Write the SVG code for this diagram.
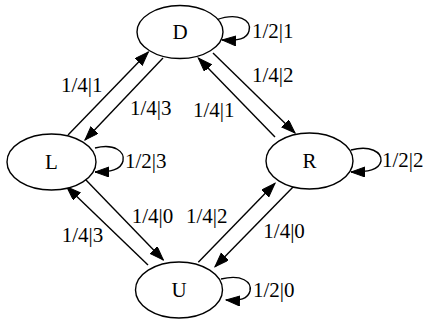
<svg xmlns="http://www.w3.org/2000/svg" width="423" height="325" viewBox="0 0 423 325">
<style>
.node ellipse{fill:#fff;stroke:#000;stroke-width:1.4}
.node text{font-family:"Liberation Serif","Times New Roman",serif;font-size:21px;text-anchor:middle;fill:#000}
.edges path{fill:none;stroke:#000;stroke-width:1.4;marker-end:url(#arr)}
.lbl{font-family:"Liberation Serif","Times New Roman",serif;font-size:21px;fill:#000}
</style>
<defs>
<marker id="arr" markerUnits="userSpaceOnUse" markerWidth="15" markerHeight="11" refX="14" refY="5" orient="auto" viewBox="0 0 15 11">
<path d="M0,0 L14,5 L0,10 z" fill="#000" stroke="#000" stroke-width="1"/>
</marker>
</defs>
<rect width="423" height="325" fill="#fff"/>
<g id="edges" class="edges">
<path d="M68,135 L148.3,52"/>
<path d="M163,58 L85,140"/>
<path d="M213,53 L295,133"/>
<path d="M275,137 L198.3,58"/>
<path d="M85,179 L163.3,260"/>
<path d="M148,265 L66.7,186.7"/>
<path d="M198.3,262.3 L275,183.3"/>
<path d="M293.3,186.7 L215,266.7"/>
<path d="M216,20 C238,12 252,20 249,31 C247,39 238,41 222,40"/>
<path d="M95,148 C115,143 125,152 123,161 C121,170 110,172 95,172"/>
<path d="M351,150 C370,145 382,152 381,161 C379,170 368,172 351,172"/>
<path d="M221,279 C242,274 252,282 250,291 C248,299 240,301 226,300"/>
<text class="lbl" x="61" y="92">1/4|1</text>
<text class="lbl" x="130" y="115">1/4|3</text>
<text class="lbl" x="252" y="82">1/4|2</text>
<text class="lbl" x="193" y="117">1/4|1</text>
<text class="lbl" x="131.7" y="223">1/4|0</text>
<text class="lbl" x="186" y="223">1/4|2</text>
<text class="lbl" x="61.7" y="242">1/4|3</text>
<text class="lbl" x="263.3" y="238">1/4|0</text>
<text class="lbl" x="252" y="38">1/2|1</text>
<text class="lbl" x="125" y="168">1/2|3</text>
<text class="lbl" x="382" y="167">1/2|2</text>
<text class="lbl" x="253" y="297">1/2|0</text>
</g>
<g id="node-D" class="node"><ellipse cx="180" cy="32" rx="43" ry="26.5"/><text x="180" y="39">D</text></g>
<g id="node-L" class="node"><ellipse cx="51.5" cy="162" rx="44.5" ry="28"/><text x="51.5" y="169">L</text></g>
<g id="node-R" class="node"><ellipse cx="309.5" cy="161" rx="43.5" ry="28"/><text x="309.5" y="168">R</text></g>
<g id="node-U" class="node"><ellipse cx="179" cy="290" rx="43.5" ry="28"/><text x="179" y="297">U</text></g>
</svg>
